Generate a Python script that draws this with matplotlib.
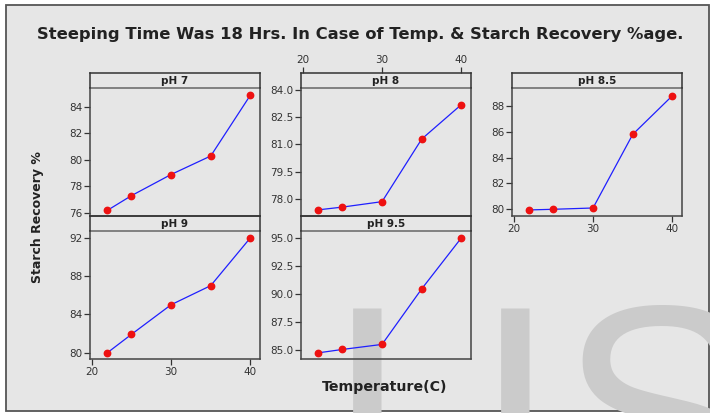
#!/usr/bin/env python3
"""Steeping time 18 hrs: starch recovery vs temperature, one panel per pH."""

import matplotlib
matplotlib.use("Agg")
import matplotlib.pyplot as plt
from matplotlib.patches import Rectangle

W, H = 710, 413
BG = "#e6e6e6"
TXT = "#333333"

temps = [22, 25, 30, 35, 40]
ph7 = [76.2, 77.3, 78.9, 80.3, 84.9]
ph8 = [77.4, 77.55, 77.85, 81.3, 83.2]
ph85 = [79.95, 80.0, 80.1, 85.8, 88.8]
ph9 = [80.0, 81.9, 85.0, 87.0, 92.0]
ph95 = [84.75, 85.05, 85.5, 90.45, 95.0]

yticks7 = [76, 78, 80, 82, 84]
yticks8 = [78.0, 79.5, 81.0, 82.5, 84.0]
yticks85 = [80, 82, 84, 86, 88]
yticks9 = [80, 84, 88, 92]
yticks95 = [85.0, 87.5, 90.0, 92.5, 95.0]
xticks = [20, 30, 40]

plt.rcParams["font.family"] = "DejaVu Sans"


def fx(x):
    return x / W


def fy(y):
    return 1 - y / H


def panel(fig, x0, y0, x1, y1, title, vals, yt, ylim, fmt, xpos=None):
    # strip of 15 px on top, data area below
    ax = fig.add_axes([fx(x0), fy(y1), fx(x1 - x0), (y1 - y0 - 15) / H])
    ax.set_facecolor("none")
    ax.plot(temps, vals, color="#1f1fff", lw=0.9, zorder=2)
    ax.plot(temps, vals, "o", color="#ee1111", ms=4.6, mec="#ee1111", zorder=3)
    ax.set_xlim(19.8, 41.2)
    ax.set_ylim(*ylim)
    ax.set_yticks(yt)
    ax.set_yticklabels([fmt.format(v) for v in yt])
    ax.set_xticks(xticks)
    ax.tick_params(axis="both", direction="out", length=4, width=0.9,
                   color=TXT, labelcolor=TXT, labelsize=7.5, pad=1.5)
    if xpos == "bottom":
        ax.tick_params(axis="x", bottom=True, labelbottom=True, top=False)
    else:
        ax.tick_params(axis="x", bottom=False, labelbottom=False,
                       top=False, labeltop=False)
    for s in ax.spines.values():
        s.set_color("#444444")
        s.set_linewidth(1.1)
    ax.spines["top"].set_color("#666666")

    st = fig.add_axes([fx(x0), fy(y0 + 15), fx(x1 - x0), 15 / H])
    st.set_facecolor("none")
    st.set_xticks([])
    st.set_yticks([])
    for s in st.spines.values():
        s.set_color("#333333")
        s.set_linewidth(1.1)
    st.spines["bottom"].set_visible(False)
    st.text(0.5, 0.45, title, ha="center", va="center", fontsize=7.5,
            fontweight="bold", color="#222222", transform=st.transAxes)
    if xpos == "top":
        st.set_xlim(19.8, 41.2)
        st.set_xticks(xticks)
        st.tick_params(axis="x", bottom=False, labelbottom=False, top=True,
                       labeltop=True, direction="out", length=4, width=0.9,
                       color=TXT, labelcolor=TXT, labelsize=7.5, pad=1.5)
    return ax


fig = plt.figure(figsize=(W / 100, H / 100), dpi=100)
fig.patch.set_facecolor("white")
fig.add_artist(Rectangle((fx(6), fy(411)), fx(703), (411 - 5) / H,
                         transform=fig.transFigure, facecolor=BG,
                         edgecolor="#555555", lw=1.3, zorder=-5))

# watermark letters
wm = dict(fontsize=219, color="#cbcbcb", family="Liberation Sans",
          va="baseline", zorder=-2)
fig.text(fx(367), fy(518), "I", ha="center", **wm)
fig.text(fx(515), fy(518), "I", ha="center", **wm)
fig.text(fx(558), fy(518), "S", ha="left", **wm)

panel(fig, 90, 73, 260, 216, "pH 7", ph7, yticks7, (75.77, 85.43), "{:.0f}")
panel(fig, 301, 73, 471, 216, "pH 8", ph8, yticks8, (77.06, 84.11), "{:.1f}",
      xpos="top")
panel(fig, 512, 73, 682, 216, "pH 8.5", ph85, yticks85, (79.48, 89.39),
      "{:.0f}", xpos="bottom")
panel(fig, 90, 216, 260, 359, "pH 9", ph9, yticks9, (79.34, 92.7), "{:.0f}",
      xpos="bottom")
panel(fig, 301, 216, 471, 359, "pH 9.5", ph95, yticks95, (84.2, 95.6),
      "{:.1f}")

fig.text(fx(360.5), fy(34),
         "Steeping Time Was 18 Hrs. In Case of Temp. & Starch Recovery %age.",
         ha="center", va="center", fontsize=11.8, fontweight="bold",
         color="#222222")
fig.text(fx(38), fy(217), "Starch Recovery %", rotation=90, ha="center",
         va="center", fontsize=9, fontweight="bold", color="#222222")
fig.text(fx(385), fy(387), "Temperature(C)", ha="center", va="center",
         fontsize=10.2, fontweight="bold", color="#222222")

fig.savefig("out.png", dpi=100, facecolor=fig.get_facecolor())
